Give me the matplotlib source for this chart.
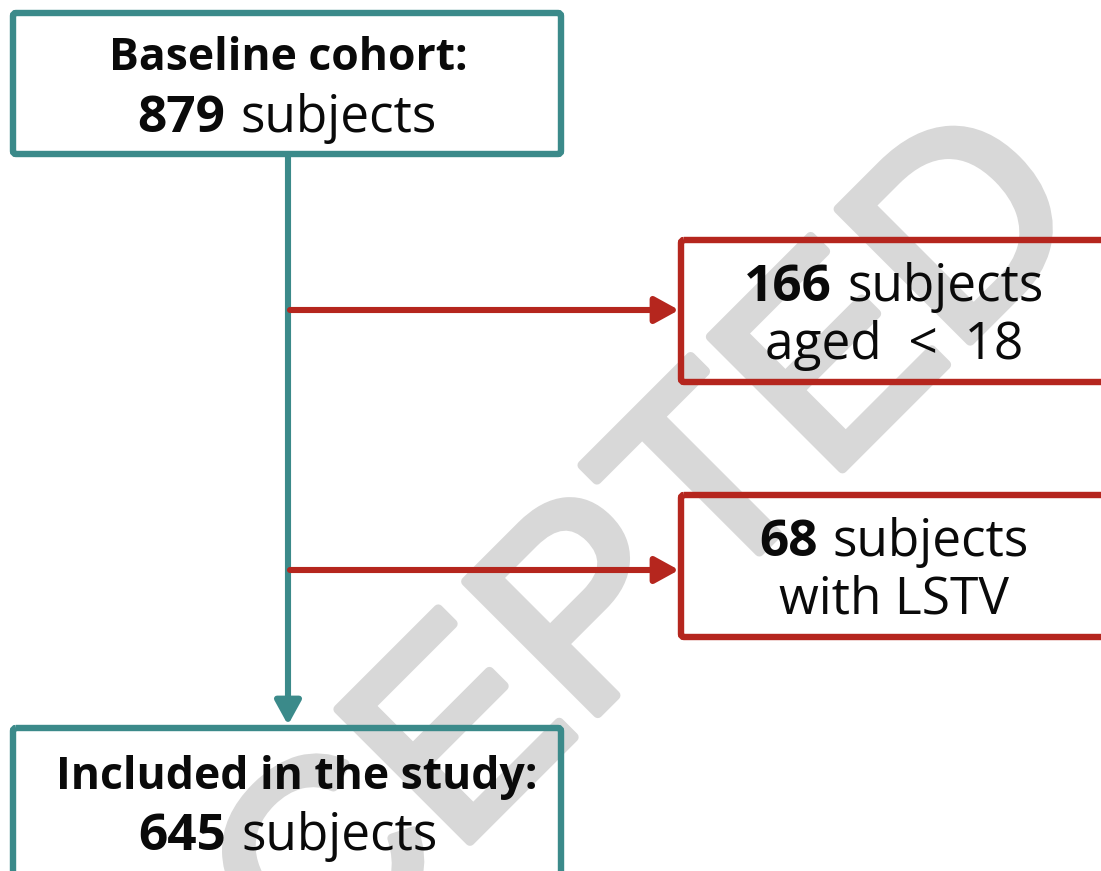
import matplotlib
matplotlib.use("Agg")
import matplotlib.pyplot as plt
from matplotlib.patches import FancyBboxPatch
from matplotlib.offsetbox import TextArea, HPacker, AnnotationBbox
import matplotlib.patheffects as pe

FONT = "Open Sans"
TEAL = "#3b8a8a"
RED = "#b5261e"
INK = "#0a0a0a"
WM = "#d8d8d8"

# flowchart content
counts = [879, 166, 68, 645]
titles = ["Baseline cohort:", "", "", "Included in the study:"]
rests = ["subjects", "subjects", "subjects", "subjects"]
notes = ["", "aged  <  18", "with LSTV", ""]

fig = plt.figure(figsize=(11.01, 8.71), dpi=100)
ax = fig.add_axes([0, 0, 1, 1])
ax.set_xlim(0, 1101)
ax.set_ylim(871, 0)
ax.axis("off")


def box(x0, y0, x1, y1, color):
    p = FancyBboxPatch((x0, y0), x1 - x0, y1 - y0,
                       boxstyle="round,pad=0,rounding_size=3",
                       fc="none", ec=color, lw=4.6, zorder=2)
    ax.add_patch(p)


def mixed_line(x, y, bold, rest, size):
    parts = [TextArea(bold, textprops=dict(fontweight="bold", fontsize=size, family=FONT, color=INK)),
             TextArea(rest, textprops=dict(fontsize=size, family=FONT, color=INK))]
    hp = HPacker(children=parts, align="baseline", pad=0, sep=size * 0.3)
    ab = AnnotationBbox(hp, (x, y), xycoords="data", frameon=False,
                        box_alignment=(0.5, 0.5), zorder=4)
    ax.add_artist(ab)


# watermark, under the boxes and text
ax.text(522, 690, "ACCEPTED", rotation=45, rotation_mode="anchor",
        ha="center", va="center", fontsize=195, family="Liberation Sans",
        color=WM, zorder=0.5,
        path_effects=[pe.withStroke(linewidth=7, foreground=WM)])

# boxes
box(13, 13, 561, 154, TEAL)
box(13, 728, 561, 900, TEAL)
box(681, 240, 1120, 382, RED)
box(681, 495, 1120, 637, RED)

# main vertical arrow
ax.annotate("", xy=(288, 725), xytext=(288, 154),
            arrowprops=dict(arrowstyle="-|>,head_length=0.4,head_width=0.22",
                            color=TEAL, lw=4.4, mutation_scale=36,
                            shrinkA=0, shrinkB=0), zorder=1)
# exclusion arrows
for yy in [310, 570]:
    ax.annotate("", xy=(679, yy), xytext=(290, yy),
                arrowprops=dict(arrowstyle="-|>,head_length=0.4,head_width=0.22",
                                color=RED, lw=4.4, mutation_scale=36,
                                shrinkA=0, shrinkB=0), zorder=1)

# texts
ax.text(288, 58, titles[0], ha="center", va="center", fontsize=32,
        fontweight="bold", family=FONT, color=INK, zorder=4)
mixed_line(287, 118, str(counts[0]), rests[0], 37)

mixed_line(894, 287, str(counts[1]), rests[1], 37)
ax.text(894, 345, notes[1], ha="center", va="center", fontsize=37,
        family=FONT, color=INK, zorder=4)

mixed_line(894, 542, str(counts[2]), rests[2], 37)
ax.text(894, 600, notes[2], ha="center", va="center", fontsize=37,
        family=FONT, color=INK, zorder=4)

ax.text(297, 777, titles[3], ha="center", va="center", fontsize=32,
        fontweight="bold", family=FONT, color=INK, zorder=4)
mixed_line(288, 836, str(counts[3]), rests[3], 37)

fig.savefig("out.png", dpi=100)
